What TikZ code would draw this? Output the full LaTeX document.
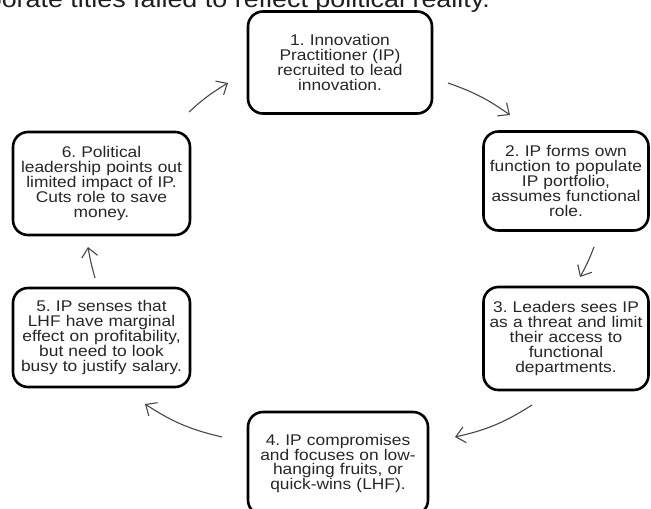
\documentclass[tikz,border=0pt]{standalone}
\usepackage{fontspec}
\setmainfont{Liberation Sans}[FakeStretch=1.12]
\usetikzlibrary{arrows.meta}
\begin{document}
\frenchspacing
\begin{tikzpicture}[x=1pt,y=-1pt,
  card/.style={draw=black, line width=2.6pt, rounded corners=15pt,
    align=center, inner sep=0pt, text=black!85,
    font=\fontsize{15.5}{14.8}\selectfont},
  flow/.style={draw=black!72, line width=1.1pt,
    -{Straight Barb[length=9pt,width=16pt,line width=1.1pt]}},
  caption/.style={text=black!88, inner sep=0pt,
    font=\fontsize{24}{24}\selectfont}
]
\useasboundingbox (0,0) rectangle (651,509);

% running text above the cycle (only its lower part lies on the page)
\node[caption, anchor=base east] (head) at (490,7)
  {corporate titles failed to reflect political reality.};

% the six stages of the cycle
\node[card, minimum width=184pt, minimum height=102pt, text width=176pt] (s1) at (340,62.5)
  {1. Innovation\\Practitioner (IP)\\recruited to lead\\innovation.};
\node[card, minimum width=165pt, minimum height=99pt, text width=163pt] (s2) at (566,181)
  {2. IP forms own\\function to populate\\IP portfolio,\\assumes functional\\role.};
\node[card, minimum width=165pt, minimum height=103pt, text width=163pt] (s3) at (566,338.5)
  {3. Leaders sees IP\\as a threat and limit\\their access to\\functional\\departments.};
\node[card, minimum width=180pt, minimum height=103pt, text width=174pt] (s4) at (338,463.5)
  {4. IP compromises\\and focuses on low-\\hanging fruits, or\\quick-wins (LHF).};
\node[card, minimum width=177pt, minimum height=99pt, text width=175pt] (s5) at (101.5,337.5)
  {5. IP senses that\\LHF have marginal\\effect on profitability,\\but need to look\\busy to justify salary.};
\node[card, minimum width=177pt, minimum height=103pt, text width=175pt] (s6) at (101.5,183.5)
  {6. Political\\leadership points out\\limited impact of IP.\\Cuts role to save\\money.};

% free ends of the curved arrows between the stages
\coordinate (a1s) at (189,112);  \coordinate (a1e) at (228,83);
\coordinate (a2s) at (448,83);   \coordinate (a2e) at (510,115);
\coordinate (a3s) at (594,247);  \coordinate (a3e) at (580,277);
\coordinate (a4s) at (532,405);  \coordinate (a4e) at (455,437);
\coordinate (a5s) at (222,437);  \coordinate (a5e) at (145,404);
\coordinate (a6s) at (95,278);   \coordinate (a6e) at (88,247);

\draw[flow] (a1s) to[bend left=6] (a1e);
\draw[flow] (a2s) to[bend left=8] (a2e);
\draw[flow] (a3s) to[bend left=4] (a3e);
\draw[flow] (a4s) to[bend left=10] (a4e);
\draw[flow] (a5s) to[bend left=10] (a5e);
\draw[flow] (a6s) to[bend left=3] (a6e);
\end{tikzpicture}
\end{document}
